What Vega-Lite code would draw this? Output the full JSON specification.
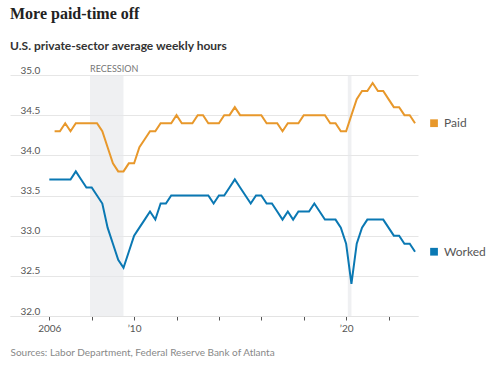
{
  "$schema": "https://vega.github.io/schema/vega-lite/v6.json",
  "width": 408,
  "height": 241,
  "autosize": {"type": "none"},
  "padding": {"left": 10, "top": 75, "right": 78, "bottom": 51},
  "background": "white",
  "title": {
    "text": "More paid-time off",
    "subtitle": "U.S. private-sector average weekly hours",
    "anchor": "start",
    "frame": "group",
    "font": "Liberation Serif",
    "fontSize": 16,
    "fontWeight": "bold",
    "color": "#222222",
    "subtitleFont": "Lato",
    "subtitleFontSize": 12,
    "subtitleFontWeight": "bold",
    "subtitleColor": "#333333",
    "subtitlePadding": 19,
    "offset": 13
  },
  "config": {"view": {"stroke": null}, "font": "Lato"},
  "datasets": {
    "recessions": [
      {"start": 2007.92, "end": 2009.5, "label": "RECESSION"},
      {"start": 2020.08, "end": 2020.25, "label": ""}
    ],
    "hours": [
      {"year": 2006.0, "series": "Worked", "hours": 33.7},
      {"year": 2006.25, "series": "Worked", "hours": 33.7},
      {"year": 2006.5, "series": "Worked", "hours": 33.7},
      {"year": 2006.75, "series": "Worked", "hours": 33.7},
      {"year": 2007.0, "series": "Worked", "hours": 33.7},
      {"year": 2007.25, "series": "Worked", "hours": 33.8},
      {"year": 2007.5, "series": "Worked", "hours": 33.7},
      {"year": 2007.75, "series": "Worked", "hours": 33.6},
      {"year": 2008.0, "series": "Worked", "hours": 33.6},
      {"year": 2008.25, "series": "Worked", "hours": 33.5},
      {"year": 2008.5, "series": "Worked", "hours": 33.4},
      {"year": 2008.75, "series": "Worked", "hours": 33.1},
      {"year": 2009.0, "series": "Worked", "hours": 32.9},
      {"year": 2009.25, "series": "Worked", "hours": 32.7},
      {"year": 2009.5, "series": "Worked", "hours": 32.6},
      {"year": 2009.75, "series": "Worked", "hours": 32.8},
      {"year": 2010.0, "series": "Worked", "hours": 33.0},
      {"year": 2010.25, "series": "Worked", "hours": 33.1},
      {"year": 2010.5, "series": "Worked", "hours": 33.2},
      {"year": 2010.75, "series": "Worked", "hours": 33.3},
      {"year": 2011.0, "series": "Worked", "hours": 33.2},
      {"year": 2011.25, "series": "Worked", "hours": 33.4},
      {"year": 2011.5, "series": "Worked", "hours": 33.4},
      {"year": 2011.75, "series": "Worked", "hours": 33.5},
      {"year": 2012.0, "series": "Worked", "hours": 33.5},
      {"year": 2012.25, "series": "Worked", "hours": 33.5},
      {"year": 2012.5, "series": "Worked", "hours": 33.5},
      {"year": 2012.75, "series": "Worked", "hours": 33.5},
      {"year": 2013.0, "series": "Worked", "hours": 33.5},
      {"year": 2013.25, "series": "Worked", "hours": 33.5},
      {"year": 2013.5, "series": "Worked", "hours": 33.5},
      {"year": 2013.75, "series": "Worked", "hours": 33.4},
      {"year": 2014.0, "series": "Worked", "hours": 33.5},
      {"year": 2014.25, "series": "Worked", "hours": 33.5},
      {"year": 2014.5, "series": "Worked", "hours": 33.6},
      {"year": 2014.75, "series": "Worked", "hours": 33.7},
      {"year": 2015.0, "series": "Worked", "hours": 33.6},
      {"year": 2015.25, "series": "Worked", "hours": 33.5},
      {"year": 2015.5, "series": "Worked", "hours": 33.4},
      {"year": 2015.75, "series": "Worked", "hours": 33.5},
      {"year": 2016.0, "series": "Worked", "hours": 33.5},
      {"year": 2016.25, "series": "Worked", "hours": 33.4},
      {"year": 2016.5, "series": "Worked", "hours": 33.4},
      {"year": 2016.75, "series": "Worked", "hours": 33.3},
      {"year": 2017.0, "series": "Worked", "hours": 33.2},
      {"year": 2017.25, "series": "Worked", "hours": 33.3},
      {"year": 2017.5, "series": "Worked", "hours": 33.2},
      {"year": 2017.75, "series": "Worked", "hours": 33.3},
      {"year": 2018.0, "series": "Worked", "hours": 33.3},
      {"year": 2018.25, "series": "Worked", "hours": 33.3},
      {"year": 2018.5, "series": "Worked", "hours": 33.4},
      {"year": 2018.75, "series": "Worked", "hours": 33.3},
      {"year": 2019.0, "series": "Worked", "hours": 33.2},
      {"year": 2019.25, "series": "Worked", "hours": 33.2},
      {"year": 2019.5, "series": "Worked", "hours": 33.2},
      {"year": 2019.75, "series": "Worked", "hours": 33.1},
      {"year": 2020.0, "series": "Worked", "hours": 32.9},
      {"year": 2020.25, "series": "Worked", "hours": 32.4},
      {"year": 2020.5, "series": "Worked", "hours": 32.9},
      {"year": 2020.75, "series": "Worked", "hours": 33.1},
      {"year": 2021.0, "series": "Worked", "hours": 33.2},
      {"year": 2021.25, "series": "Worked", "hours": 33.2},
      {"year": 2021.5, "series": "Worked", "hours": 33.2},
      {"year": 2021.75, "series": "Worked", "hours": 33.2},
      {"year": 2022.0, "series": "Worked", "hours": 33.1},
      {"year": 2022.25, "series": "Worked", "hours": 33.0},
      {"year": 2022.5, "series": "Worked", "hours": 33.0},
      {"year": 2022.75, "series": "Worked", "hours": 32.9},
      {"year": 2023.0, "series": "Worked", "hours": 32.9},
      {"year": 2023.25, "series": "Worked", "hours": 32.8},
      {"year": 2006.25, "series": "Paid", "hours": 34.3},
      {"year": 2006.5, "series": "Paid", "hours": 34.3},
      {"year": 2006.75, "series": "Paid", "hours": 34.4},
      {"year": 2007.0, "series": "Paid", "hours": 34.3},
      {"year": 2007.25, "series": "Paid", "hours": 34.4},
      {"year": 2007.5, "series": "Paid", "hours": 34.4},
      {"year": 2007.75, "series": "Paid", "hours": 34.4},
      {"year": 2008.0, "series": "Paid", "hours": 34.4},
      {"year": 2008.25, "series": "Paid", "hours": 34.4},
      {"year": 2008.5, "series": "Paid", "hours": 34.3},
      {"year": 2008.75, "series": "Paid", "hours": 34.1},
      {"year": 2009.0, "series": "Paid", "hours": 33.9},
      {"year": 2009.25, "series": "Paid", "hours": 33.8},
      {"year": 2009.5, "series": "Paid", "hours": 33.8},
      {"year": 2009.75, "series": "Paid", "hours": 33.9},
      {"year": 2010.0, "series": "Paid", "hours": 33.9},
      {"year": 2010.25, "series": "Paid", "hours": 34.1},
      {"year": 2010.5, "series": "Paid", "hours": 34.2},
      {"year": 2010.75, "series": "Paid", "hours": 34.3},
      {"year": 2011.0, "series": "Paid", "hours": 34.3},
      {"year": 2011.25, "series": "Paid", "hours": 34.4},
      {"year": 2011.5, "series": "Paid", "hours": 34.4},
      {"year": 2011.75, "series": "Paid", "hours": 34.4},
      {"year": 2012.0, "series": "Paid", "hours": 34.5},
      {"year": 2012.25, "series": "Paid", "hours": 34.4},
      {"year": 2012.5, "series": "Paid", "hours": 34.4},
      {"year": 2012.75, "series": "Paid", "hours": 34.4},
      {"year": 2013.0, "series": "Paid", "hours": 34.5},
      {"year": 2013.25, "series": "Paid", "hours": 34.5},
      {"year": 2013.5, "series": "Paid", "hours": 34.4},
      {"year": 2013.75, "series": "Paid", "hours": 34.4},
      {"year": 2014.0, "series": "Paid", "hours": 34.4},
      {"year": 2014.25, "series": "Paid", "hours": 34.5},
      {"year": 2014.5, "series": "Paid", "hours": 34.5},
      {"year": 2014.75, "series": "Paid", "hours": 34.6},
      {"year": 2015.0, "series": "Paid", "hours": 34.5},
      {"year": 2015.25, "series": "Paid", "hours": 34.5},
      {"year": 2015.5, "series": "Paid", "hours": 34.5},
      {"year": 2015.75, "series": "Paid", "hours": 34.5},
      {"year": 2016.0, "series": "Paid", "hours": 34.5},
      {"year": 2016.25, "series": "Paid", "hours": 34.4},
      {"year": 2016.5, "series": "Paid", "hours": 34.4},
      {"year": 2016.75, "series": "Paid", "hours": 34.4},
      {"year": 2017.0, "series": "Paid", "hours": 34.3},
      {"year": 2017.25, "series": "Paid", "hours": 34.4},
      {"year": 2017.5, "series": "Paid", "hours": 34.4},
      {"year": 2017.75, "series": "Paid", "hours": 34.4},
      {"year": 2018.0, "series": "Paid", "hours": 34.5},
      {"year": 2018.25, "series": "Paid", "hours": 34.5},
      {"year": 2018.5, "series": "Paid", "hours": 34.5},
      {"year": 2018.75, "series": "Paid", "hours": 34.5},
      {"year": 2019.0, "series": "Paid", "hours": 34.5},
      {"year": 2019.25, "series": "Paid", "hours": 34.4},
      {"year": 2019.5, "series": "Paid", "hours": 34.4},
      {"year": 2019.75, "series": "Paid", "hours": 34.3},
      {"year": 2020.0, "series": "Paid", "hours": 34.3},
      {"year": 2020.25, "series": "Paid", "hours": 34.5},
      {"year": 2020.5, "series": "Paid", "hours": 34.7},
      {"year": 2020.75, "series": "Paid", "hours": 34.8},
      {"year": 2021.0, "series": "Paid", "hours": 34.8},
      {"year": 2021.25, "series": "Paid", "hours": 34.9},
      {"year": 2021.5, "series": "Paid", "hours": 34.8},
      {"year": 2021.75, "series": "Paid", "hours": 34.8},
      {"year": 2022.0, "series": "Paid", "hours": 34.7},
      {"year": 2022.25, "series": "Paid", "hours": 34.6},
      {"year": 2022.5, "series": "Paid", "hours": 34.6},
      {"year": 2022.75, "series": "Paid", "hours": 34.5},
      {"year": 2023.0, "series": "Paid", "hours": 34.5},
      {"year": 2023.25, "series": "Paid", "hours": 34.4}
    ]
  },
  "layer": [
    {
      "data": {"name": "recessions"},
      "mark": {"type": "rect", "color": "#e6e8eb", "opacity": 0.65},
      "encoding": {
        "x": {
          "field": "start", "type": "quantitative",
          "scale": {"domain": [2004.146, 2023.39], "nice": false, "zero": false},
          "axis": {
            "values": [2006, 2007, 2008, 2009, 2010, 2011, 2012, 2013, 2014, 2015, 2016, 2017, 2018, 2019, 2020, 2021, 2022, 2023],
            "labelExpr": "datum.value == 2006 ? '2006' : '’' + (datum.value % 100)",
            "labelOpacity": {"condition": {"test": "datum.value == 2006 || datum.value == 2010 || datum.value == 2015 || datum.value == 2020", "value": 1}, "value": 0},
            "grid": false,
            "domainColor": "#e3e3e3",
            "tickColor": "#555555",
            "tickSize": 4,
            "labelColor": "#555555",
            "labelFont": "Lato",
            "labelFontSize": 10,
            "labelPadding": 3,
            "labelOverlap": false,
            "labelFlush": false,
            "title": "Sources: Labor Department, Federal Reserve Bank of Atlanta",
            "titleAnchor": "start",
            "titleAlign": "left",
            "titleFont": "Lato",
            "titleFontSize": 10,
            "titleFontWeight": "normal",
            "titleColor": "#888888",
            "titlePadding": 14
          }
        },
        "x2": {"field": "end"},
        "y": {
          "datum": 35, "type": "quantitative",
          "scale": {"domain": [32, 35], "nice": false, "zero": false},
          "axis": {
            "values": [32, 32.5, 33, 33.5, 34, 34.5, 35],
            "format": ".1f",
            "domain": false,
            "ticks": false,
            "grid": true,
            "gridColor": "#e6e6e6",
            "labelAlign": "left",
            "labelPadding": -10,
            "labelBaseline": "alphabetic",
            "labelOffset": -2,
            "labelColor": "#555555",
            "labelFont": "Lato",
            "labelFontSize": 10,
            "title": null
          }
        },
        "y2": {"datum": 32}
      }
    },
    {
      "data": {"name": "recessions"},
      "mark": {"type": "text", "align": "left", "baseline": "alphabetic", "dy": -3, "fontSize": 9, "color": "#777777", "font": "Lato"},
      "encoding": {
        "x": {"field": "start", "type": "quantitative", "scale": {"domain": [2004.146, 2023.39], "nice": false, "zero": false}},
        "y": {"datum": 35, "type": "quantitative", "scale": {"domain": [32, 35], "nice": false, "zero": false}},
        "text": {"field": "label"}
      }
    },
    {
      "data": {"name": "hours"},
      "mark": {"type": "line", "strokeWidth": 2},
      "encoding": {
        "x": {"field": "year", "type": "quantitative", "scale": {"domain": [2004.146, 2023.39], "nice": false, "zero": false}},
        "y": {"field": "hours", "type": "quantitative", "scale": {"domain": [32, 35], "nice": false, "zero": false}},
        "color": {"field": "series", "type": "nominal", "scale": {"domain": ["Paid", "Worked"], "range": ["#e8982b", "#0a78b3"]}, "legend": null}
      }
    },
    {
      "data": {"name": "hours"},
      "transform": [{"filter": "datum.year == 2023.25"}],
      "mark": {"type": "point", "shape": "square", "filled": true, "size": 60, "opacity": 1, "xOffset": 19},
      "encoding": {
        "x": {"field": "year", "type": "quantitative", "scale": {"domain": [2004.146, 2023.39], "nice": false, "zero": false}},
        "y": {"field": "hours", "type": "quantitative", "scale": {"domain": [32, 35], "nice": false, "zero": false}},
        "color": {"field": "series", "type": "nominal", "scale": {"domain": ["Paid", "Worked"], "range": ["#e8982b", "#0a78b3"]}, "legend": null}
      }
    },
    {
      "data": {"name": "hours"},
      "transform": [{"filter": "datum.year == 2023.25"}],
      "mark": {"type": "text", "align": "left", "baseline": "middle", "dx": 29, "fontSize": 12, "font": "Lato", "color": "#555555"},
      "encoding": {
        "x": {"field": "year", "type": "quantitative", "scale": {"domain": [2004.146, 2023.39], "nice": false, "zero": false}},
        "y": {"field": "hours", "type": "quantitative", "scale": {"domain": [32, 35], "nice": false, "zero": false}},
        "text": {"field": "series"}
      }
    }
  ]
}
